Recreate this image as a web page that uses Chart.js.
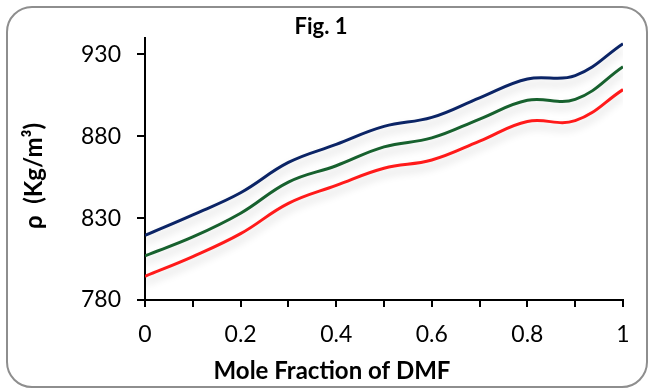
<!DOCTYPE html>
<html>
<head>
<meta charset="utf-8">
<script src="https://cdn.jsdelivr.net/npm/chart.js@4.4.1/dist/chart.umd.min.js"></script>
<style>
    body { margin: 0; background: #fff; }
    #wrap { position: relative; width: 649px; height: 389px; }
    #frame {
        position: absolute; left: 6px; top: 6px; width: 642px; height: 382px;
        box-sizing: border-box; border: 2px solid #8e8e8e; border-radius: 26px;
        pointer-events: none;
    }
</style>
</head>
<body>
<div id="wrap">
    <canvas id="densityChart" width="649" height="389"></canvas>
    <div id="frame"></div>
</div>
<script>
// mole fraction of DMF and density (kg/m3) for the three curves
const moleFraction = [0, 0.1, 0.2, 0.3, 0.4, 0.5, 0.6, 0.7, 0.8, 0.9, 1];
const rhoBlue  = [819.5, 832, 845.5, 864, 875, 886, 891.5, 903.5, 915, 917, 936.5];
const rhoGreen = [807, 818.5, 833, 852, 862, 873.5, 879, 890.5, 902, 902.5, 922.5];
const rhoRed   = [794.5, 806.5, 820.5, 839, 850, 860.5, 865.5, 877, 889, 889.5, 908.5];
const yTicks = [780, 830, 880, 930];

const toPoints = (ys) => moleFraction.map((x, i) => ({ x: x, y: ys[i] }));

// soft grey shadow under each line, like the Excel original
const lineShadow = {
    id: 'lineShadow',
    beforeDatasetDraw(chart) {
        const ctx = chart.ctx;
        ctx.save();
        ctx.shadowColor = 'rgba(0,0,0,0.18)';
        ctx.shadowBlur = 8;
        ctx.shadowOffsetY = 6;
    },
    afterDatasetDraw(chart) { chart.ctx.restore(); }
};

// title and axis titles sit off-centre in the original
const labels = {
    id: 'labels',
    afterDraw(chart) {
        const ctx = chart.ctx;
        ctx.save();
        ctx.fillStyle = '#000';
        ctx.textAlign = 'center';
        ctx.textBaseline = 'middle';
        ctx.font = 'bold 22px Lato';
        ctx.fillText('Fig. 1', 321, 27);
        ctx.font = 'bold 24px Lato';
        ctx.fillText('Mole Fraction of DMF', 332, 371);
        ctx.translate(34, 176);
        ctx.rotate(-Math.PI / 2);
        ctx.fillText('ρ  (Kg/m³)', 0, 0);
        ctx.restore();
    }
};

document.addEventListener("DOMContentLoaded", () => {
    const ctx = document.getElementById("densityChart");
    new Chart(ctx, {
        type: "line",
        data: {
            datasets: [
                { data: toPoints(rhoBlue),  borderColor: "#0b2466", borderWidth: 3, pointRadius: 0, tension: 0.4 },
                { data: toPoints(rhoGreen), borderColor: "#17612e", borderWidth: 3, pointRadius: 0, tension: 0.4 },
                { data: toPoints(rhoRed),   borderColor: "#ff1a1a", borderWidth: 3, pointRadius: 0, tension: 0.4 }
            ]
        },
        options: {
            responsive: false,
            animation: false,
            layout: { padding: { top: 38, right: 26, left: 0, bottom: 0 } },
            plugins: { legend: { display: false }, tooltip: { enabled: false }, title: { display: false } },
            scales: {
                x: {
                    type: 'linear', min: 0, max: 1,
                    afterFit: (s) => { s.height = 89; },
                    grid: { drawOnChartArea: false, drawTicks: true, tickLength: 7, color: '#000', lineWidth: 2 },
                    border: { color: '#000', width: 2 },
                    ticks: {
                        stepSize: 0.1, autoSkip: false, maxRotation: 0, padding: 14,
                        color: '#000', font: { family: 'Lato', size: 23 },
                        callback: (v) => Math.round(v * 10) % 2 === 0 ? String(Math.round(v * 10) / 10) : ''
                    }
                },
                y: {
                    min: 780, max: 940,
                    afterFit: (s) => { s.width = 145; },
                    afterBuildTicks: (s) => { s.ticks = yTicks.map(v => ({ value: v })); },
                    grid: { drawOnChartArea: false, drawTicks: true, tickLength: 8, color: '#000', lineWidth: 2 },
                    border: { color: '#000', width: 2 },
                    ticks: { padding: 16, color: '#000', font: { family: 'Lato', size: 23 } }
                }
            }
        },
        plugins: [lineShadow, labels]
    });
});
</script>
</body>
</html>
